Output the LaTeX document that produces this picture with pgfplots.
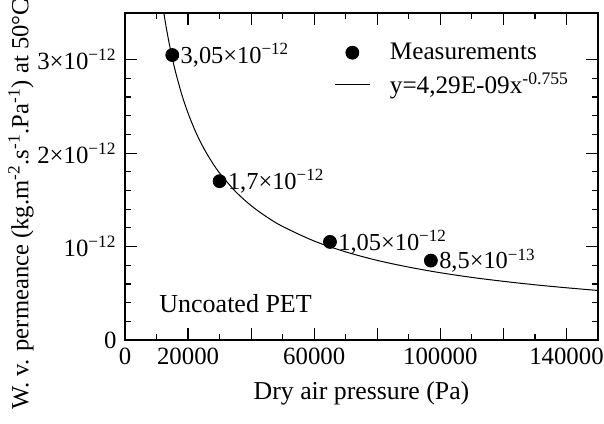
\documentclass[border=0pt,12pt]{standalone}
\usepackage{fontspec}
\setmainfont{Liberation Serif}
\usepackage{pgfplots}
\pgfplotsset{compat=1.18}
\begin{document}
\begin{tikzpicture}
\begin{axis}[
  scale only axis,
  width=236.5pt, height=163.5pt,
  xmin=0, xmax=150000, ymin=0, ymax=3.5e-12,
  scaled ticks=false,
  xtick={0,20000,40000,60000,80000,100000,120000,140000},
  xticklabels={0,20000,,60000,,100000,,140000},
  minor x tick num=1,
  ytick={0,1e-12,2e-12,3e-12},
  yticklabels={0,10\textsuperscript{−12},2×10\textsuperscript{−12},3×10\textsuperscript{−12}},
  minor y tick num=4,
  tick align=inside,
  xtick pos=both, ytick pos=both,
  major tick length=6pt, minor tick length=3pt,
  axis line style={line width=0.8pt},
  every tick/.style={black, line width=0.6pt},
  tick label style={font=\fontsize{12.4}{14}\selectfont},
  xlabel={Dry air pressure (Pa)},
  xlabel style={font=\fontsize{12.9}{15}\selectfont},
  ylabel={W. v. permeance (kg.m\textsuperscript{-2}.s\textsuperscript{-1}.Pa\textsuperscript{-1}) at 50°C},
  ylabel style={at={(axis description cs:-0.22,0.415)}, anchor=center, font=\fontsize{12.3}{15}\selectfont},
  legend style={draw=none, fill=none, at={(axis description cs:0.43,0.935)}, anchor=north west,
    column sep=8pt, row sep=1pt, font=\fontsize{12.6}{15}\selectfont},
  legend cell align=left,
]
\addplot[only marks, mark=*, mark size=3.25pt, black,
  nodes near coords, point meta=explicit symbolic,
  every node near coord/.append style={anchor=west, inner sep=4pt, black, font=\fontsize{12.2}{14}\selectfont}]
  coordinates {
  (15000,3.05e-12) [3,05×10\textsuperscript{−12}]
  (30000,1.70e-12) [1,7×10\textsuperscript{−12}]
  (65000,1.05e-12) [1,05×10\textsuperscript{−12}]
  (97000,0.85e-12) [8,5×10\textsuperscript{−13}]
  };
\addlegendentry{Measurements}
\addplot[black, line width=0.5pt, smooth, no marks] coordinates {
  (12300,3.504e-12) (13000,3.360e-12) (14000,3.178e-12) (15000,3.017e-12)
  (16000,2.873e-12) (18000,2.628e-12) (20000,2.428e-12) (22500,2.221e-12)
  (25000,2.051e-12) (27500,1.909e-12) (30000,1.787e-12) (35000,1.591e-12)
  (40000,1.438e-12) (45000,1.316e-12) (50000,1.215e-12) (60000,1.059e-12)
  (70000,0.943e-12) (80000,0.852e-12) (90000,0.780e-12) (100000,0.720e-12)
  (110000,0.670e-12) (120000,0.628e-12) (130000,0.591e-12) (140000,0.559e-12)
  (150000,0.530e-12)
};
\addlegendentry{y=4,29E-09x\textsuperscript{-0.755}}
\node[anchor=west, font=\fontsize{13}{15}\selectfont] at (axis description cs:0.055,0.11) {Uncoated PET};
\end{axis}
\pgfresetboundingbox
\path (-62.5pt,-41.5pt) rectangle (239.5pt,170pt);
\end{tikzpicture}
\end{document}
